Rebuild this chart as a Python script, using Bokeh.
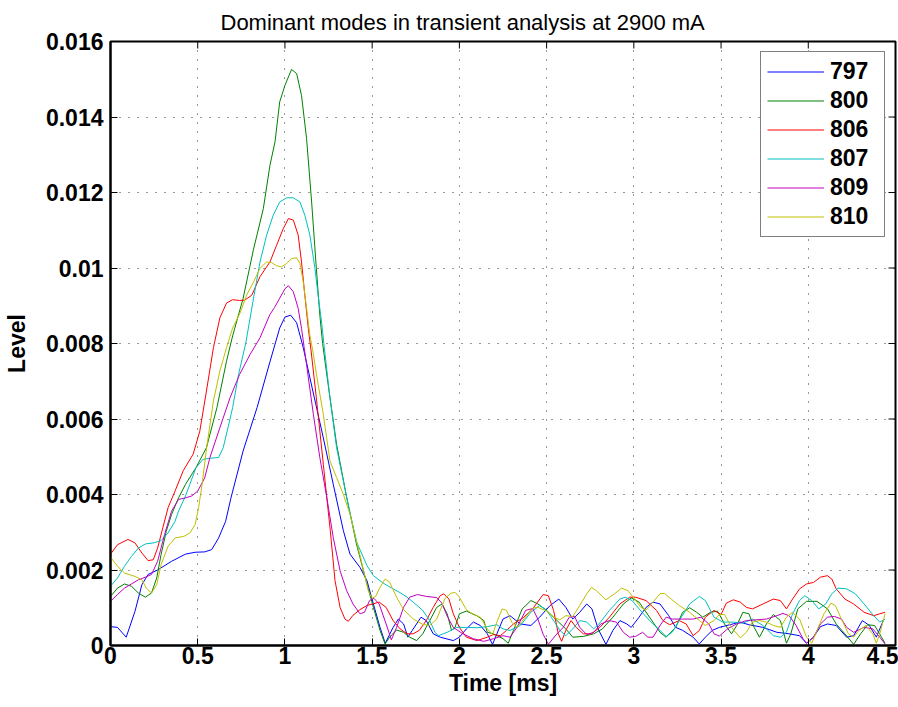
import math
from bokeh.plotting import figure
from bokeh.models import (ColumnDataSource, Range1d, FixedTicker, Legend, LegendItem)
from bokeh.embed import file_html
from bokeh.resources import INLINE

# ---------------- data (time in ms, level in units of 1e-3) ----------------
LEVEL_UNIT = 1e-3

modes = ["797", "800", "806", "807", "809", "810"]
mode_colors = ["#0000FF", "#008000", "#FF0000", "#00BFBF", "#BF00BF", "#BFBF00"]

mode_797 = [(0.00,0.50),(0.04,0.48),(0.09,0.22),(0.14,0.90),(0.18,1.61),(0.215,1.88),(0.27,2.00),(0.35,2.23),
            (0.43,2.42),(0.485,2.47),(0.54,2.48),(0.58,2.54),(0.62,2.85),(0.66,3.29),(0.69,3.90),(0.76,5.15),
            (0.84,6.30),(0.915,7.53),(0.97,8.41),(1.00,8.70),(1.033,8.75),(1.067,8.55),(1.105,7.89),(1.16,6.74),
            (1.22,5.50),(1.277,4.27),(1.335,3.04),(1.373,2.42),(1.43,2.07),(1.47,1.72),(1.507,1.10),(1.545,0.48),
            (1.575,0.06),(1.62,0.48),(1.65,0.70),(1.68,0.57),(1.705,0.22),(1.73,0.40),(1.78,0.75),(1.81,0.66),
            (1.85,0.31),(1.89,0.22),(1.965,0.13),(2.00,0.22),(2.04,0.44),(2.08,0.62),(2.12,0.53),(2.16,0.31),
            (2.19,0.03),(2.215,0.31),(2.25,0.70),(2.29,0.79),(2.35,0.57),(2.41,0.53),(2.46,0.75),(2.52,1.06),
            (2.57,1.23),(2.61,1.01),(2.65,0.70),(2.69,0.88),(2.73,1.10),(2.76,0.97),(2.795,0.44),(2.84,0.03),
            (2.88,0.40),(2.92,0.66),(2.96,0.57),(2.985,0.48),(3.03,0.75),(3.07,1.01),(3.11,1.15),(3.15,1.10),
            (3.20,0.79),(3.24,0.48),(3.28,0.40),(3.34,0.22),(3.375,0.04),(3.41,0.22),(3.45,0.40),(3.49,0.48),
            (3.55,0.55),(3.61,0.62),(3.66,0.55),(3.74,0.48),(3.82,0.35),(3.89,0.31),(3.95,0.26),(3.99,0.06),
            (4.03,0.22),(4.07,0.50),(4.11,0.57),(4.16,0.53),(4.22,0.22),(4.26,0.26),(4.31,0.66),(4.35,0.53),
            (4.39,0.22),(4.43,0.66)]

mode_800 = [(0.00,1.30),(0.04,1.52),(0.08,1.63),(0.12,1.57),(0.16,1.39),(0.20,1.28),(0.235,1.39),(0.265,1.79),
            (0.29,2.41),(0.32,3.03),(0.35,3.47),(0.39,3.91),(0.43,4.27),(0.49,4.71),(0.55,5.24),(0.61,6.30),
            (0.665,7.53),(0.70,8.20),(0.76,9.19),(0.82,10.50),(0.876,11.57),(0.914,12.72),(0.943,13.34),
            (0.97,14.40),(1.00,14.84),(1.038,15.26),(1.067,15.15),(1.095,14.57),(1.124,13.43),(1.153,11.75),
            (1.18,9.99),(1.20,8.75),(1.216,8.00),(1.245,7.00),(1.296,5.33),(1.354,3.92),(1.41,2.69),(1.47,1.63),
            (1.507,1.01),(1.545,0.40),(1.574,0.04),(1.60,0.22),(1.64,0.41),(1.68,0.35),(1.715,0.22),(1.755,0.13),
            (1.79,0.31),(1.83,0.66),(1.87,1.01),(1.90,1.10),(1.93,0.84),(1.955,0.40),(1.975,0.48),(2.00,0.84),
            (2.04,0.91),(2.10,0.79),(2.14,0.66),(2.16,0.35),(2.195,0.31),(2.25,0.18),(2.28,0.06),(2.31,0.40),
            (2.36,0.97),(2.41,1.19),(2.45,1.10),(2.50,0.93),(2.56,0.66),(2.61,0.44),(2.65,0.22),(2.71,0.24),
            (2.77,0.31),(2.82,0.44),(2.88,0.75),(2.94,1.10),(2.985,1.26),(3.03,1.15),(3.09,0.75),(3.15,0.35),
            (3.185,0.22),(3.24,0.48),(3.28,0.88),(3.32,1.00),(3.36,0.88),(3.395,0.75),(3.44,0.88),(3.48,0.91),
            (3.52,0.57),(3.56,0.31),(3.59,0.53),(3.625,0.88),(3.66,0.84),(3.69,0.48),(3.72,0.22),(3.76,0.57),
            (3.80,0.82),(3.84,0.66),(3.875,0.06),(3.90,0.31),(3.94,0.97),(3.99,1.17),(4.05,1.17),(4.11,0.97),
            (4.16,0.57),(4.21,0.31),(4.26,0.03),(4.30,0.31),(4.34,0.55),(4.38,0.53),(4.42,0.22),(4.44,0.06)]

mode_806 = [(0.00,2.42),(0.04,2.67),(0.10,2.81),(0.14,2.72),(0.18,2.45),(0.215,2.25),(0.245,2.27),(0.27,2.58),
            (0.30,3.12),(0.33,3.65),(0.37,4.09),(0.417,4.63),(0.474,5.07),(0.512,5.68),(0.55,6.74),(0.59,7.89),
            (0.627,8.68),(0.665,9.07),(0.70,9.16),(0.74,9.14),(0.77,9.15),(0.81,9.28),(0.857,9.77),(0.914,10.16),
            (0.952,10.60),(0.99,11.04),(1.02,11.31),(1.048,11.27),(1.076,10.87),(1.095,10.16),(1.114,9.28),
            (1.134,8.40),(1.15,7.80),(1.18,6.56),(1.22,4.80),(1.26,3.04),(1.287,1.72),(1.316,1.01),(1.344,0.70),
            (1.363,0.64),(1.39,0.80),(1.43,0.95),(1.47,1.06),(1.504,1.10),(1.54,1.15),(1.58,1.01),(1.62,0.66),
            (1.66,0.44),(1.70,0.31),(1.735,0.31),(1.77,0.40),(1.81,0.66),(1.85,1.01),(1.89,1.32),(1.91,1.37),
            (1.94,1.23),(1.965,0.84),(2.00,0.48),(2.04,0.22),(2.10,0.13),(2.16,0.22),(2.195,0.29),(2.235,0.26),
            (2.27,0.40),(2.31,0.57),(2.37,0.75),(2.42,0.97),(2.48,1.35),(2.51,1.32),(2.54,0.93),(2.567,0.31),
            (2.586,0.11),(2.61,0.40),(2.64,0.66),(2.67,0.48),(2.71,0.31),(2.757,0.31),(2.805,0.48),(2.86,0.75),
            (2.92,1.10),(2.976,1.28),(3.01,1.28),(3.07,1.19),(3.13,0.93),(3.167,0.66),(3.205,0.55),(3.26,0.66),
            (3.30,0.57),(3.34,0.26),(3.376,0.40),(3.41,0.75),(3.46,0.93),(3.50,0.82),(3.53,1.12),(3.57,1.21),
            (3.61,1.15),(3.645,1.01),(3.68,0.97),(3.74,1.10),(3.80,1.23),(3.84,1.19),(3.875,0.97),(3.91,1.23),
            (3.95,1.50),(3.99,1.63),(4.03,1.67),(4.07,1.81),(4.11,1.85),(4.135,1.76),(4.16,1.50),(4.21,1.23),
            (4.26,1.10),(4.32,0.88),(4.375,0.79),(4.41,0.84),(4.44,0.88)]

mode_807 = [(0.00,1.57),(0.04,1.79),(0.08,2.10),(0.12,2.36),(0.16,2.58),(0.20,2.69),(0.25,2.72),(0.29,2.78),
            (0.33,2.98),(0.37,3.29),(0.39,3.56),(0.43,3.96),(0.455,4.27),(0.49,4.71),(0.53,4.93),(0.57,4.96),
            (0.62,4.98),(0.646,5.24),(0.675,5.80),(0.70,6.30),(0.735,7.20),(0.775,8.00),(0.82,9.20),(0.857,10.16),
            (0.895,10.87),(0.933,11.40),(0.97,11.75),(1.01,11.86),(1.048,11.86),(1.086,11.75),(1.114,11.40),
            (1.143,10.87),(1.172,9.99),(1.19,9.28),(1.21,8.57),(1.223,8.00),(1.258,6.56),(1.296,5.24),(1.354,3.92),
            (1.41,2.75),(1.47,2.12),(1.507,1.85),(1.564,1.65),(1.62,1.50),(1.66,1.40),(1.70,1.28),(1.735,1.15),
            (1.79,0.93),(1.83,0.66),(1.86,0.35),(1.88,0.26),(1.93,0.35),(1.985,0.48),(2.04,0.48),(2.10,0.47),
            (2.16,0.50),(2.215,0.55),(2.25,0.44),(2.29,0.40),(2.35,0.53),(2.41,0.88),(2.46,1.06),(2.50,0.93),
            (2.54,0.66),(2.576,0.40),(2.61,0.26),(2.65,0.44),(2.69,0.66),(2.73,0.62),(2.77,0.44),(2.80,0.57),
            (2.86,0.93),(2.92,1.23),(2.95,1.28),(2.99,1.19),(3.03,0.97),(3.09,0.66),(3.15,0.40),(3.185,0.24),
            (3.22,0.35),(3.26,0.66),(3.32,1.10),(3.376,1.30),(3.41,1.19),(3.46,0.75),(3.51,0.62),(3.57,0.62),
            (3.625,0.59),(3.68,0.70),(3.74,0.53),(3.80,0.26),(3.84,0.22),(3.875,0.35),(3.91,0.84),(3.95,1.19),
            (3.98,1.32),(4.02,1.19),(4.06,0.97),(4.10,1.10),(4.135,1.37),(4.17,1.52),(4.22,1.50),(4.27,1.37),
            (4.32,1.10),(4.375,0.79),(4.41,0.62),(4.44,0.70)]

mode_809 = [(0.00,1.17),(0.04,1.35),(0.08,1.52),(0.12,1.63),(0.16,1.74),(0.20,1.81),(0.235,1.88),(0.27,2.23),
            (0.31,2.94),(0.35,3.56),(0.39,3.87),(0.43,3.91),(0.465,3.96),(0.50,4.09),(0.54,4.44),(0.57,4.98),
            (0.627,5.77),(0.685,6.56),(0.74,7.18),(0.80,7.71),(0.857,8.15),(0.914,8.77),(0.94,8.95),(0.97,9.20),
            (1.00,9.45),(1.02,9.53),(1.048,9.37),(1.076,8.93),(1.095,8.40),(1.11,7.90),(1.124,7.44),(1.163,6.12),
            (1.20,4.98),(1.24,3.92),(1.277,2.86),(1.316,1.98),(1.354,1.45),(1.39,1.10),(1.43,0.84),(1.456,0.88),
            (1.485,1.19),(1.51,1.25),(1.54,1.10),(1.58,0.57),(1.61,0.15),(1.64,0.48),(1.68,1.01),(1.715,1.28),
            (1.76,1.35),(1.81,1.30),(1.87,1.27),(1.90,1.12),(1.93,0.78),(1.965,0.48),(2.02,0.31),(2.08,0.18),
            (2.14,0.11),(2.195,0.18),(2.25,0.26),(2.29,0.22),(2.33,0.48),(2.38,0.93),(2.42,0.98),(2.45,0.70),
            (2.48,0.30),(2.51,0.03),(2.55,0.26),(2.595,0.48),(2.63,0.75),(2.66,0.77),(2.69,0.48),(2.73,0.29),
            (2.77,0.35),(2.81,0.57),(2.86,0.66),(2.90,0.62),(2.94,0.35),(2.976,0.22),(3.01,0.24),(3.05,0.35),
            (3.08,0.22),(3.11,0.22),(3.15,0.53),(3.185,0.75),(3.22,0.70),(3.28,0.70),(3.34,0.70),(3.385,0.75),
            (3.43,0.57),(3.46,0.31),(3.49,0.25),(3.54,0.45),(3.59,0.57),(3.645,0.66),(3.70,0.68),(3.76,0.70),
            (3.82,0.79),(3.855,0.85),(3.89,0.79),(3.93,0.53),(3.97,0.18),(3.99,0.06),(4.03,0.22),(4.07,0.57),
            (4.11,0.75),(4.15,0.77),(4.19,0.70),(4.22,0.48),(4.26,0.35),(4.32,0.48),(4.37,0.44),(4.41,0.22),
            (4.44,0.04)]

mode_810 = [(0.00,2.34),(0.04,2.10),(0.08,1.92),(0.14,1.83),(0.18,1.74),(0.205,1.52),(0.235,1.39),(0.265,1.61),
            (0.29,2.14),(0.33,2.63),(0.37,2.85),(0.42,2.89),(0.455,2.98),(0.485,3.20),(0.505,3.65),(0.525,4.27),
            (0.55,5.20),(0.59,6.48),(0.627,7.27),(0.665,7.89),(0.70,8.41),(0.742,8.80),(0.78,9.28),(0.82,9.63),
            (0.857,9.99),(0.895,10.16),(0.924,10.14),(0.952,10.06),(0.98,10.03),(1.01,10.12),(1.038,10.25),
            (1.067,10.27),(1.086,10.12),(1.105,9.63),(1.124,8.93),(1.143,8.22),(1.16,7.80),(1.18,7.20),(1.22,6.12),
            (1.258,4.89),(1.296,4.45),(1.335,4.00),(1.373,3.48),(1.41,2.78),(1.45,2.00),(1.478,1.45),(1.50,1.25),
            (1.52,1.30),(1.545,1.54),(1.574,1.76),(1.60,1.68),(1.64,1.28),(1.68,0.95),(1.736,0.70),(1.79,0.56),
            (1.83,0.53),(1.87,0.70),(1.918,1.25),(1.95,1.38),(1.975,1.41),(2.00,1.28),(2.04,0.95),(2.08,0.82),
            (2.12,0.75),(2.16,0.44),(2.19,0.29),(2.215,0.62),(2.245,0.97),(2.27,0.93),(2.30,0.62),(2.33,0.48),
            (2.37,0.70),(2.42,0.99),(2.45,1.01),(2.50,0.91),(2.54,0.75),(2.576,0.68),(2.61,0.79),(2.65,0.77),
            (2.69,1.06),(2.73,1.37),(2.757,1.54),(2.786,1.45),(2.84,1.21),(2.89,1.37),(2.93,1.52),(2.967,1.45),
            (3.005,1.23),(3.04,1.01),(3.07,0.94),(3.11,1.15),(3.15,1.37),(3.176,1.38),(3.214,1.23),(3.26,1.06),
            (3.32,0.88),(3.376,0.66),(3.41,0.53),(3.46,0.66),(3.49,0.82),(3.52,0.82),(3.56,0.48),(3.61,0.20),
            (3.645,0.35),(3.68,0.62),(3.72,0.66),(3.76,0.62),(3.80,0.53),(3.84,0.48),(3.875,0.75),(3.91,0.88),
            (3.95,0.70),(3.99,0.22),(4.02,0.06),(4.05,0.40),(4.09,0.84),(4.13,1.12),(4.155,1.06),(4.19,0.70),
            (4.23,0.31),(4.26,0.22),(4.29,0.40),(4.33,0.53),(4.37,0.31),(4.39,0.06),(4.41,0.31),(4.44,0.84)]

mode_series = [mode_797, mode_800, mode_806, mode_807, mode_809, mode_810]

X_MIN, X_MAX = 0.0, 4.5
Y_MIN, Y_MAX = 0.0, 0.016
x_ticks = [0, 0.5, 1, 1.5, 2, 2.5, 3, 3.5, 4, 4.5]
x_tick_labels = ["0", "0.5", "1", "1.5", "2", "2.5", "3", "3.5", "4", "4.5"]
y_ticks = [0, 0.002, 0.004, 0.006, 0.008, 0.01, 0.012, 0.014, 0.016]
y_tick_labels = ["0", "0.002", "0.004", "0.006", "0.008", "0.01", "0.012", "0.014", "0.016"]

title_text = "Dominant modes in transient analysis at 2900 mA"
x_label = "Time [ms]"
y_label = "Level"

# ---------------- figure ----------------
FONT = "Liberation Sans"

p = figure(frame_width=785, frame_height=604, output_backend="svg", toolbar_location=None,
           x_range=Range1d(X_MIN, X_MAX), y_range=Range1d(Y_MIN, Y_MAX),
           min_border_left=0, min_border_right=3, min_border_top=0, min_border_bottom=0,
           background_fill_color="white", border_fill_color="white")
p.outline_line_color = "black"
p.outline_line_width = 2

p.title.text = title_text
p.title.align = "left"
p.title.offset = 110
p.title.standoff = 14
p.title.text_font = FONT
p.title.text_font_style = "normal"
p.title.text_font_size = "22px"
p.title.text_color = "black"

renderers = []
for name, color, series in zip(modes, mode_colors, mode_series):
    src = ColumnDataSource(dict(t=[pt[0] for pt in series],
                                level=[pt[1] * LEVEL_UNIT for pt in series]))
    r = p.line(x="t", y="level", source=src, line_color=color, line_width=1)
    renderers.append((name, r))

# inward ticks on the top and right borders (box style), clipped by the frame
p.scatter(x=x_ticks, y=[Y_MAX] * len(x_ticks), marker="dash", size=14, angle=math.pi / 2,
          line_color="black", line_width=1)
p.scatter(x=[X_MAX] * len(y_ticks), y=y_ticks, marker="dash", size=14,
          line_color="black", line_width=1)

def style_axis(ax):
    ax.major_tick_in = 7
    ax.major_tick_out = 0
    ax.minor_tick_in = 0
    ax.minor_tick_out = 0
    ax.major_tick_line_color = "black"
    ax.major_tick_line_width = 1
    ax.axis_line_color = "black"
    ax.axis_line_width = 2

xa = p.xaxis[0]
xa.ticker = FixedTicker(ticks=x_ticks)
xa.major_label_overrides = {t: s for t, s in zip(x_ticks, x_tick_labels)}
style_axis(xa)
xa.major_label_text_font = FONT
xa.major_label_text_font_style = "bold"
xa.major_label_text_font_size = "23px"
xa.major_label_text_color = "black"
xa.major_label_standoff = 1
xa.axis_label = x_label
xa.axis_label_text_font = FONT
xa.axis_label_text_font_style = "bold"
xa.axis_label_text_font_size = "23px"
xa.axis_label_text_color = "black"
xa.axis_label_standoff = 3

ya = p.yaxis[0]
ya.ticker = FixedTicker(ticks=y_ticks)
ya.major_label_overrides = {t: s for t, s in zip(y_ticks, y_tick_labels)}
style_axis(ya)
ya.major_label_text_font = FONT
ya.major_label_text_font_style = "bold"
ya.major_label_text_font_size = "23px"
ya.major_label_text_color = "black"
ya.major_label_standoff = 7
ya.axis_label = y_label
ya.axis_label_text_font = FONT
ya.axis_label_text_font_style = "bold"
ya.axis_label_text_font_size = "23px"
ya.axis_label_text_color = "black"
ya.axis_label_standoff = 13

for g in (p.xgrid[0], p.ygrid[0]):
    g.grid_line_color = "#333333"
    g.grid_line_width = 1
    g.grid_line_dash = "1 8"

legend = Legend(items=[LegendItem(label=n, renderers=[r]) for n, r in renderers],
                location="top_right", margin=10, padding=6, spacing=2,
                glyph_width=57, glyph_height=21, label_height=21, label_width=48,
                label_standoff=6, label_text_font=FONT, label_text_font_style="bold",
                label_text_font_size="23px", label_text_color="black",
                border_line_color="black", border_line_width=1,
                background_fill_color="white", background_fill_alpha=1.0)
p.add_layout(legend)

open("out.html", "w").write(file_html(p, INLINE))
